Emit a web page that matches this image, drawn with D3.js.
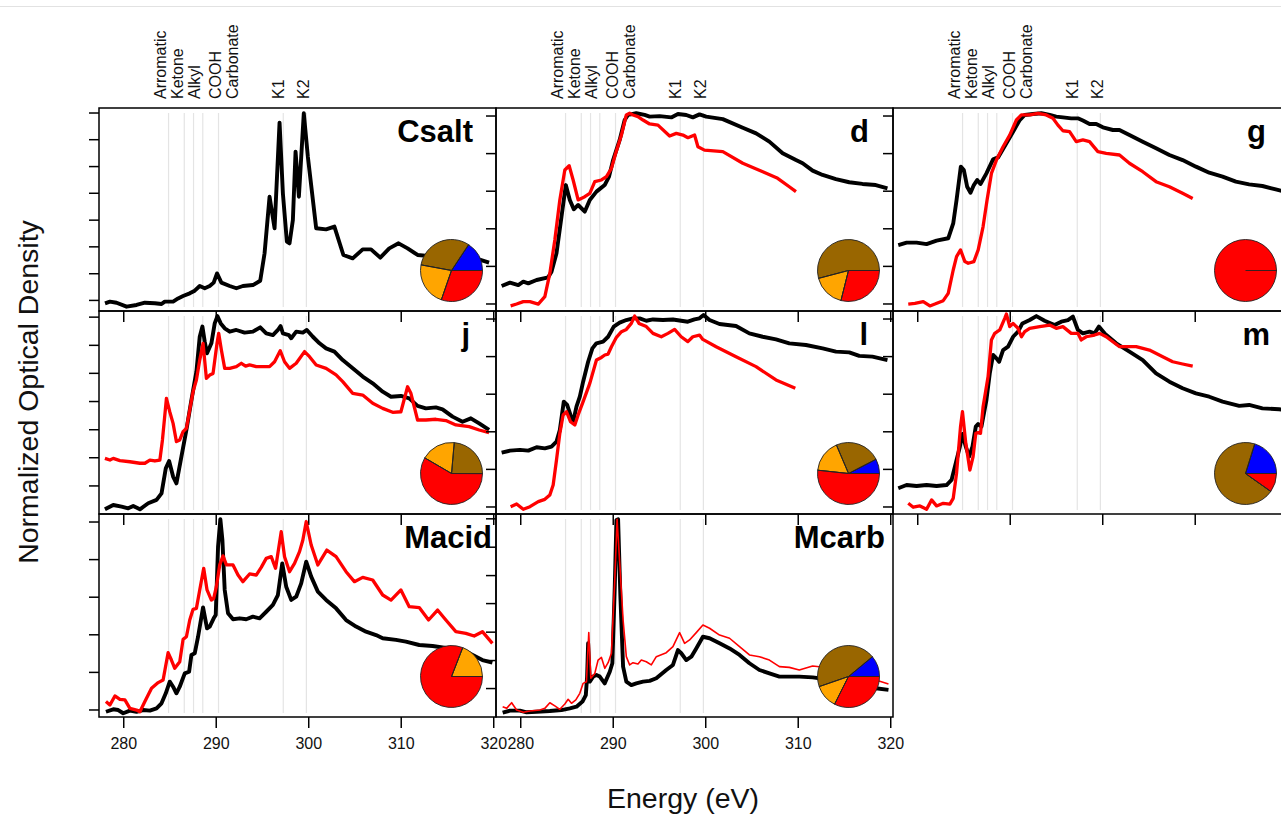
<!DOCTYPE html>
<html>
<head>
<meta charset="utf-8">
<script src="https://cdn.jsdelivr.net/npm/d3@7"></script>
<style>
  body { margin: 0; background: #fff; }
  svg { display: block; font-family: "Liberation Sans", Arial, Helvetica, sans-serif; }
</style>
</head>
<body>
<svg id="chart" width="1281" height="815"></svg>
<script>
// reference energies (eV) with their labels
const refNames = ["Arromatic", "Ketone", "Alkyl", "COOH", "Carbonate", "K1", "K2"];
const refEnergy = [284.9, 286.6, 287.6, 288.6, 290.3, 297.3, 299.8];
const refLabelAt = [284.6, 286.5, 288.3, 290.6, 292.4, 297.4, 300.1];

const xTicks = [280, 290, 300, 310, 320];
const xDomain = [277.38, 320.3];

const panels = ["Csalt", "d", "g", "j", "l", "m", "Macid", "Mcarb"];

// y tick values (normalized OD) for each panel, same order as panels
const yTicks = [
  [0.019, 0.161, 0.304, 0.446, 0.589, 0.731, 0.874, 1.016],
  [0, 0.2, 0.4, 0.6, 0.8, 1],
  [0, 0.2, 0.4, 0.6, 0.8, 1],
  [0.112, 0.262, 0.411, 0.561, 0.711, 0.86, 1.01],
  [0, 0.2, 0.4, 0.6, 0.8, 1],
  [0, 0.2, 0.4, 0.6, 0.8, 1],
  [0, 0.2, 0.4, 0.6, 0.8, 1],
  [0.114, 0.263, 0.414, 0.566, 0.715, 0.866, 1.017]
];

// pie fractions (blue, brown, orange, red) per panel
const pieBlue   = [0.157, 0,     0, 0,     0.076, 0.202, 0,     0.110];
const pieBrown  = [0.314, 0.541, 0, 0.236, 0.238, 0.700, 0,     0.443];
const pieOrange = [0.226, 0.170, 0, 0.180, 0.169, 0,     0.191, 0.123];
const pieRed    = [0.303, 0.289, 1, 0.583, 0.517, 0.098, 0.809, 0.324];
const pieColors = ["#0000ff", "#996600", "#ffa500", "#ff0000"];

// spectra: [energy eV, normalized OD]
const csaltBlack = [[278.03,0.001],[278.56,0.010],[279.28,0.004],[280.36,-0.017],[281.44,-0.008],[282.34,0.004],[283.42,0.001],[284.14,-0.003],[284.49,0.010],[285.39,0.010],[285.93,0.027],[286.47,0.040],[287.19,0.054],[287.73,0.068],[288.27,0.093],[288.81,0.081],[289.35,0.093],[289.78,0.111],[290.14,0.160],[290.61,0.111],[291.51,0.093],[292.23,0.081],[292.94,0.093],[294.02,0.098],[294.81,0.121],[295.28,0.267],[295.82,0.568],[296.36,0.400],[296.90,0.962],[297.26,0.586],[297.69,0.329],[297.98,0.320],[298.34,0.444],[298.63,0.808],[298.99,0.568],[299.52,1.012],[299.96,0.781],[300.86,0.400],[301.93,0.394],[302.83,0.409],[303.80,0.258],[304.81,0.240],[305.89,0.288],[306.79,0.288],[307.79,0.244],[308.76,0.293],[309.77,0.320],[310.74,0.293],[311.82,0.258],[313.80,0.249],[315.96,0.240],[318.11,0.240],[319.55,0.217]];

const dBlack = [[277.99,0.093],[278.89,0.111],[279.79,0.098],[280.33,0.116],[280.87,0.107],[281.77,0.125],[283.02,0.139],[283.38,0.169],[283.92,0.267],[284.46,0.462],[284.93,0.630],[285.36,0.551],[285.79,0.501],[286.26,0.524],[286.98,0.489],[287.52,0.551],[288.24,0.595],[289.13,0.630],[289.60,0.675],[290.04,0.763],[290.75,0.870],[291.29,0.976],[291.65,1.003],[292.55,1.012],[293.45,1.003],[293.99,0.994],[295.07,0.997],[296.33,0.990],[297.05,1.008],[297.95,1.003],[298.66,0.990],[299.38,1.006],[300.10,0.994],[301.90,0.981],[304.06,0.935],[305.50,0.905],[306.93,0.861],[308.37,0.799],[309.81,0.763],[310.53,0.746],[311.61,0.707],[312.69,0.684],[314.13,0.662],[315.57,0.645],[317.00,0.636],[318.44,0.630],[319.70,0.613]];
const dRed = [[278.96,-0.013],[279.61,-0.003],[280.33,0.010],[281.05,0.010],[281.95,-0.003],[282.66,0.036],[283.20,0.160],[283.74,0.338],[284.28,0.551],[284.82,0.710],[285.29,0.733],[285.72,0.657],[286.26,0.551],[286.98,0.568],[287.52,0.586],[288.06,0.648],[288.78,0.657],[289.32,0.675],[289.86,0.719],[290.32,0.799],[290.94,0.896],[291.47,1.003],[291.83,1.012],[292.19,1.003],[292.73,0.994],[293.27,0.976],[293.99,0.955],[294.89,0.949],[296.15,0.891],[296.87,0.905],[297.59,0.896],[298.13,0.882],[298.85,0.896],[299.21,0.834],[299.92,0.816],[301.90,0.808],[304.06,0.746],[306.22,0.701],[307.83,0.666],[309.09,0.621],[309.81,0.595]];

const gBlack = [[277.95,0.311],[278.85,0.324],[279.93,0.324],[281.01,0.316],[282.09,0.334],[283.35,0.347],[283.89,0.426],[284.25,0.551],[284.71,0.728],[285.04,0.710],[285.40,0.621],[285.76,0.589],[286.12,0.630],[286.48,0.657],[286.84,0.636],[287.48,0.692],[288.20,0.767],[288.74,0.777],[289.64,0.852],[290.36,0.914],[291.08,0.976],[291.62,1.003],[292.52,1.008],[293.42,1.012],[294.32,1.003],[295.03,0.994],[295.75,0.990],[296.65,0.985],[297.37,0.985],[297.91,0.973],[298.63,0.955],[299.35,0.955],[300.07,0.937],[301.15,0.923],[301.86,0.923],[302.94,0.896],[304.38,0.861],[305.82,0.826],[307.26,0.790],[308.69,0.763],[310.13,0.728],[311.57,0.696],[313.01,0.675],[314.45,0.648],[315.88,0.634],[317.32,0.625],[318.76,0.607],[319.30,0.600],[319.70,0.595]];
const gRed = [[279.03,-0.003],[279.75,0.001],[280.65,0.010],[281.37,-0.013],[281.91,-0.003],[282.81,0.015],[283.35,0.054],[283.89,0.178],[284.25,0.249],[284.68,0.285],[285.15,0.223],[285.51,0.214],[286.12,0.223],[286.59,0.285],[287.12,0.409],[287.55,0.551],[288.02,0.692],[288.56,0.763],[289.28,0.834],[290.00,0.896],[290.72,0.976],[291.26,1.003],[292.16,1.003],[293.06,1.012],[293.95,1.003],[294.67,0.985],[295.21,0.949],[295.75,0.919],[296.47,0.914],[297.19,0.861],[297.91,0.870],[298.63,0.861],[299.53,0.808],[300.43,0.799],[301.87,0.790],[302.94,0.746],[304.38,0.701],[305.82,0.648],[307.26,0.621],[308.69,0.586],[309.78,0.559]];

const jBlack = [[278.02,-0.015],[278.92,0.008],[279.82,-0.001],[280.54,-0.010],[281.08,0.003],[281.80,-0.015],[282.70,0.017],[283.60,0.035],[284.14,0.070],[284.60,0.203],[284.96,0.242],[285.39,0.159],[285.75,0.123],[286.29,0.265],[286.83,0.407],[287.37,0.566],[287.91,0.717],[288.27,0.903],[288.56,0.957],[288.81,0.877],[289.06,0.815],[289.53,0.868],[289.89,0.974],[290.18,1.013],[290.54,0.974],[290.97,0.948],[291.51,0.930],[292.23,0.939],[293.12,0.925],[294.02,0.930],[294.81,0.953],[295.46,0.921],[296.18,0.912],[296.72,0.939],[297.01,0.960],[297.26,0.921],[297.91,0.912],[298.16,0.895],[298.70,0.930],[299.42,0.925],[299.85,0.939],[300.50,0.903],[301.22,0.868],[301.93,0.841],[302.83,0.824],[303.73,0.779],[304.81,0.735],[305.89,0.691],[306.97,0.655],[308.05,0.611],[308.95,0.584],[310.02,0.588],[310.92,0.575],[311.82,0.535],[312.72,0.522],[313.80,0.527],[314.52,0.517],[315.60,0.478],[316.68,0.451],[317.58,0.469],[318.48,0.442],[319.55,0.407]];
const jRed = [[278.02,0.256],[278.56,0.247],[278.92,0.256],[279.64,0.244],[280.72,0.238],[281.80,0.230],[282.34,0.230],[282.88,0.247],[283.42,0.242],[283.96,0.247],[284.24,0.354],[284.67,0.575],[285.03,0.504],[285.39,0.442],[285.75,0.345],[286.11,0.354],[286.47,0.398],[286.83,0.416],[287.19,0.513],[287.55,0.611],[287.91,0.673],[288.27,0.779],[288.63,0.868],[288.99,0.682],[289.35,0.699],[289.71,0.708],[290.14,0.868],[290.32,0.921],[290.61,0.832],[290.97,0.735],[291.51,0.735],[292.23,0.744],[292.77,0.762],[293.23,0.747],[293.66,0.753],[294.38,0.744],[295.82,0.744],[296.36,0.770],[296.97,0.829],[297.44,0.770],[297.98,0.735],[298.70,0.762],[299.60,0.824],[300.14,0.797],[300.86,0.753],[301.93,0.735],[303.01,0.700],[303.73,0.664],[304.81,0.602],[305.89,0.593],[306.97,0.549],[308.05,0.522],[309.13,0.501],[310.02,0.504],[310.74,0.637],[311.10,0.602],[311.82,0.460],[312.72,0.460],[313.80,0.464],[314.88,0.457],[315.96,0.434],[317.40,0.425],[318.48,0.407],[319.55,0.393]];

const lBlack = [[277.99,0.286],[278.89,0.297],[279.97,0.301],[280.87,0.297],[281.77,0.315],[282.66,0.309],[283.38,0.318],[283.92,0.345],[284.28,0.407],[284.71,0.558],[285.07,0.540],[285.43,0.487],[285.72,0.451],[286.08,0.531],[286.44,0.584],[286.80,0.664],[287.34,0.770],[287.80,0.841],[288.24,0.868],[288.96,0.877],[289.50,0.903],[290.11,0.957],[290.75,0.978],[291.47,0.992],[292.19,1.001],[292.91,1.001],[293.63,0.988],[294.35,0.995],[295.43,0.992],[296.51,0.995],[297.40,0.988],[298.12,0.983],[298.84,0.995],[299.38,1.001],[299.82,1.019],[300.46,0.992],[301.54,0.971],[303.33,0.960],[304.77,0.921],[306.21,0.903],[307.65,0.889],[309.09,0.868],[310.89,0.859],[312.69,0.841],[314.13,0.824],[315.57,0.820],[316.65,0.801],[318.08,0.797],[319.70,0.779]];
const lRed = [[278.96,-0.001],[279.61,0.013],[280.33,-0.015],[281.05,-0.001],[281.95,0.026],[282.66,0.038],[283.20,0.061],[283.56,0.114],[283.92,0.247],[284.28,0.389],[284.64,0.487],[285.00,0.504],[285.43,0.451],[285.90,0.434],[286.26,0.487],[286.80,0.558],[287.52,0.655],[288.24,0.779],[288.78,0.793],[289.14,0.806],[289.50,0.811],[289.86,0.850],[290.40,0.900],[290.94,0.930],[291.47,0.942],[292.01,0.974],[292.37,1.013],[292.84,0.974],[293.63,0.957],[294.35,0.921],[295.25,0.903],[295.97,0.921],[296.69,0.942],[297.40,0.903],[298.12,0.877],[298.66,0.903],[299.38,0.912],[299.74,0.889],[301.18,0.850],[303.33,0.797],[305.49,0.744],[307.65,0.673],[309.74,0.629]];

const mBlack = [[277.95,0.097],[278.85,0.114],[279.93,0.109],[281.01,0.114],[282.09,0.109],[283.17,0.114],[283.71,0.141],[284.07,0.212],[284.61,0.318],[284.89,0.386],[285.25,0.318],[285.61,0.265],[285.97,0.318],[286.33,0.425],[286.58,0.439],[286.94,0.425],[287.48,0.566],[287.84,0.708],[288.20,0.806],[288.56,0.788],[288.85,0.770],[289.28,0.832],[289.82,0.850],[290.36,0.903],[290.90,0.930],[291.37,0.974],[292.16,0.992],[292.88,1.013],[293.77,0.988],[294.85,0.965],[295.57,0.983],[296.29,0.992],[296.83,1.010],[297.37,0.939],[297.91,0.921],[298.63,0.930],[299.17,0.921],[299.64,0.957],[300.25,0.921],[301.51,0.868],[302.94,0.824],[304.38,0.779],[305.82,0.708],[307.26,0.664],[308.69,0.629],[310.13,0.602],[311.57,0.584],[313.01,0.558],[314.81,0.535],[315.88,0.540],[317.32,0.522],[319.12,0.517],[319.70,0.515]];
const mRed = [[279.03,0.017],[279.57,-0.004],[280.29,0.003],[281.01,-0.015],[281.55,0.035],[282.09,0.003],[282.81,0.017],[283.53,0.013],[283.89,0.043],[284.25,0.176],[284.68,0.425],[284.89,0.504],[285.25,0.336],[285.69,0.194],[286.04,0.265],[286.33,0.389],[286.58,0.393],[286.84,0.389],[287.12,0.531],[287.66,0.691],[288.02,0.886],[288.38,0.921],[288.92,0.939],[289.46,1.001],[289.64,1.024],[290.00,0.957],[290.36,0.974],[290.90,0.948],[291.26,0.903],[291.62,0.930],[292.16,0.948],[293.24,0.957],[294.32,0.965],[295.03,0.948],[295.75,0.957],[296.65,0.921],[297.37,0.921],[297.73,0.886],[298.27,0.903],[299.17,0.912],[299.71,0.921],[300.43,0.903],[301.87,0.850],[303.67,0.850],[305.10,0.832],[306.54,0.797],[307.62,0.770],[308.69,0.758],[309.78,0.747]];

const macidBlack = [[278.13,-0.012],[278.92,0.001],[279.46,-0.003],[280.00,-0.020],[280.72,-0.006],[281.44,-0.012],[282.16,-0.003],[282.88,-0.006],[283.60,0.006],[284.14,0.033],[284.60,0.086],[285.03,0.148],[285.39,0.121],[285.75,0.086],[286.11,0.121],[286.65,0.192],[287.12,0.201],[287.37,0.290],[287.73,0.299],[288.09,0.387],[288.63,0.543],[289.06,0.432],[289.35,0.441],[289.78,0.485],[290.00,0.503],[290.25,0.866],[290.50,1.012],[290.72,0.902],[290.97,0.636],[291.33,0.512],[291.87,0.480],[292.59,0.485],[293.30,0.480],[294.02,0.494],[294.74,0.485],[295.46,0.520],[296.18,0.556],[296.72,0.609],[297.19,0.777],[297.62,0.653],[298.16,0.583],[298.70,0.600],[299.24,0.671],[299.78,0.786],[300.32,0.707],[301.04,0.627],[301.93,0.583],[303.01,0.538],[304.09,0.476],[305.17,0.441],[306.25,0.414],[307.33,0.396],[308.05,0.379],[309.49,0.370],[310.56,0.361],[312.00,0.343],[313.44,0.338],[315.24,0.325],[317.04,0.308],[318.83,0.263],[319.91,0.249]];
const macidRed = [[278.13,0.042],[278.56,0.024],[279.10,0.072],[279.64,0.054],[280.18,0.051],[280.72,0.006],[281.44,-0.003],[281.80,-0.012],[282.34,0.042],[283.06,0.113],[283.78,0.143],[284.31,0.157],[284.85,0.302],[285.21,0.263],[285.57,0.219],[286.11,0.254],[286.47,0.373],[286.83,0.387],[287.19,0.476],[287.55,0.533],[287.91,0.538],[288.27,0.636],[288.70,0.751],[289.06,0.636],[289.53,0.582],[289.78,0.591],[290.07,0.653],[290.43,0.769],[290.79,0.817],[291.15,0.769],[291.87,0.769],[292.41,0.715],[292.94,0.680],[293.66,0.721],[294.38,0.715],[294.92,0.756],[295.46,0.804],[296.00,0.813],[296.47,0.751],[297.08,0.946],[297.44,0.813],[297.98,0.733],[298.52,0.777],[299.06,0.840],[299.42,0.902],[299.78,0.999],[300.32,0.875],[301.04,0.769],[302.01,0.848],[303.01,0.813],[304.09,0.733],[304.99,0.680],[305.89,0.703],[306.97,0.689],[308.05,0.609],[308.95,0.582],[310.02,0.636],[310.92,0.547],[312.00,0.542],[313.01,0.476],[313.98,0.529],[314.88,0.476],[315.96,0.414],[317.04,0.405],[317.94,0.391],[318.83,0.414],[319.91,0.352]];

const mcarbBlack = [[278.10,-0.017],[278.89,-0.006],[279.97,-0.006],[280.69,-0.015],[281.77,-0.012],[283.20,-0.008],[284.46,-0.003],[285.36,0.006],[286.08,0.015],[286.73,0.042],[287.09,0.077],[287.23,0.175],[287.34,0.352],[287.52,0.148],[287.88,0.175],[288.24,0.184],[288.60,0.175],[289.13,0.139],[289.68,0.201],[289.96,0.246],[290.22,0.653],[290.40,1.008],[290.58,1.012],[290.83,0.600],[291.12,0.228],[291.47,0.148],[292.01,0.130],[292.55,0.139],[293.27,0.148],[293.99,0.152],[294.71,0.166],[295.79,0.210],[296.51,0.237],[297.05,0.316],[297.41,0.299],[297.95,0.263],[298.50,0.281],[299.03,0.325],[299.75,0.387],[300.47,0.379],[301.55,0.352],[302.63,0.325],[303.71,0.290],[304.78,0.246],[305.86,0.210],[306.94,0.192],[308.02,0.175],[310.17,0.175],[311.61,0.171],[313.77,0.157],[316.28,0.130],[318.44,0.113],[319.81,0.104]];
const mcarbRed = [[278.10,0.015],[278.53,0.006],[279.07,0.036],[279.61,-0.003],[280.33,-0.015],[281.05,-0.008],[282.13,-0.003],[282.66,0.006],[283.20,0.036],[283.74,0.019],[284.28,0.001],[284.82,0.029],[285.18,0.054],[285.54,0.033],[286.01,0.051],[286.44,0.086],[286.80,0.139],[287.16,0.148],[287.41,0.409],[287.63,0.166],[288.06,0.192],[288.42,0.263],[288.78,0.277],[289.14,0.219],[289.50,0.249],[289.86,0.299],[290.22,0.689],[290.47,1.012],[290.76,0.777],[291.12,0.476],[291.47,0.281],[291.83,0.237],[292.19,0.249],[292.73,0.242],[293.09,0.263],[293.63,0.254],[294.17,0.237],[294.71,0.281],[295.79,0.302],[296.51,0.334],[297.23,0.409],[297.77,0.352],[298.31,0.370],[299.03,0.409],[299.75,0.449],[300.47,0.432],[301.55,0.396],[302.63,0.379],[303.71,0.334],[304.78,0.290],[305.86,0.281],[306.94,0.263],[308.02,0.228],[309.09,0.224],[310.17,0.210],[311.61,0.231],[313.77,0.219],[316.28,0.193],[318.44,0.157],[319.81,0.136]];

// table built from the arrays above
const blackSeries = [csaltBlack, dBlack, gBlack, jBlack, lBlack, mBlack, macidBlack, mcarbBlack];
const redSeries = [null, dRed, gRed, jRed, lRed, mRed, macidRed, mcarbRed];

// layout
const colLeft = [99, 496, 893];
const rowTop = [108, 311, 514];
const panelW = 397, panelH = 203;
const pieR = 31;
const labelInset = { Csalt: 23, d: 24, g: 24, j: 26, l: 25, m: 20, Macid: 4, Mcarb: 8 };

const svg = d3.select("#chart");

// faint page border at the top
svg.append("line")
  .attr("x1", 0).attr("x2", 1281).attr("y1", 6.5).attr("y2", 6.5)
  .attr("stroke", "#e2e2e2").attr("stroke-width", 1);

// rotated reference labels above the top row
colLeft.forEach((cx) => {
  const x = d3.scaleLinear().domain(xDomain).range([cx, cx + panelW]);
  svg.append("g")
    .selectAll("text")
    .data(refNames)
    .join("text")
    .attr("transform", (d, k) => `translate(${x(refLabelAt[k])},99) rotate(-90)`)
    .attr("font-size", 16)
    .attr("fill", "#111")
    .text((d) => d);
});

panels.forEach((name, i) => {
  const col = i % 3, row = Math.floor(i / 3);
  const x0 = colLeft[col], y0 = rowTop[row];

  const x = d3.scaleLinear().domain(xDomain).range([x0, x0 + panelW]);
  const y = d3.scaleLinear().domain([-0.04, 1.04]).range([y0 + panelH, y0]);

  const g = svg.append("g").attr("class", "panel");

  // reference lines
  g.selectAll("line.ref")
    .data(refEnergy)
    .join("line")
    .attr("class", "ref")
    .attr("x1", (d) => x(d)).attr("x2", (d) => x(d))
    .attr("y1", y0 + 5).attr("y2", y0 + panelH - 4)
    .attr("stroke", "#e4e4e4").attr("stroke-width", 1.2);

  const line = d3.line().x((d) => x(d[0])).y((d) => y(d[1]));

  g.append("path")
    .datum(blackSeries[i])
    .attr("d", line)
    .attr("fill", "none")
    .attr("stroke", "#000")
    .attr("stroke-width", 3.9)
    .attr("stroke-linejoin", "round");

  if (redSeries[i]) {
    g.append("path")
      .datum(redSeries[i])
      .attr("d", line)
      .attr("fill", "none")
      .attr("stroke", "#ff0000")
      .attr("stroke-width", name === "Mcarb" ? 1.6 : 3.3)
      .attr("stroke-linejoin", "round");
  }

  // pie (counter-clockwise from 3 o'clock), zero slices still leave their edge line
  const fr = [pieBlue[i], pieBrown[i], pieOrange[i], pieRed[i]];
  const arc = d3.arc().innerRadius(0).outerRadius(pieR);
  const pieG = g.append("g").attr("transform", `translate(${x0 + panelW - 44.5},${y0 + 162.5})`);
  let acc = 0;
  fr.forEach((f, k) => {
    const t1 = acc * 2 * Math.PI, t2 = (acc + f) * 2 * Math.PI;
    acc += f;
    if (f > 0) {
      pieG.append("path")
        .attr("d", arc({ startAngle: Math.PI / 2 - t2, endAngle: Math.PI / 2 - t1 }))
        .attr("fill", pieColors[k])
        .attr("stroke", "#222")
        .attr("stroke-width", 0.9);
    }
    pieG.append("line")
      .attr("x1", 0).attr("y1", 0)
      .attr("x2", pieR * Math.cos(t1)).attr("y2", -pieR * Math.sin(t1))
      .attr("stroke", "#222").attr("stroke-width", 0.9);
  });

  // frame
  g.append("rect")
    .attr("x", x0).attr("y", y0)
    .attr("width", panelW).attr("height", panelH)
    .attr("fill", "none").attr("stroke", "#000").attr("stroke-width", 1.5);

  // y ticks (no labels)
  const yAxis = g.append("g")
    .attr("transform", `translate(${x0},0)`)
    .call(d3.axisLeft(y).tickValues(yTicks[i]).tickSize(10).tickSizeOuter(0).tickFormat(""));
  yAxis.select(".domain").remove();
  yAxis.selectAll("line").attr("stroke-width", 1.5);

  // x ticks, labelled on the bottom row only
  const xAxis = g.append("g")
    .attr("transform", `translate(0,${y0 + panelH})`)
    .call(d3.axisBottom(x).tickValues(xTicks).tickSize(11).tickSizeOuter(0).tickPadding(10)
      .tickFormat(row === 2 ? d3.format("d") : ""));
  xAxis.select(".domain").remove();
  xAxis.selectAll("line").attr("stroke-width", 1.5);
  xAxis.selectAll("text")
    .attr("font-size", 16)
    .attr("font-family", '"Liberation Sans", Arial, sans-serif')
    .attr("fill", "#111");

  // panel name
  g.append("text")
    .attr("x", x0 + panelW - labelInset[name])
    .attr("y", y0 + 34)
    .attr("text-anchor", "end")
    .attr("font-size", 31)
    .attr("font-weight", "bold")
    .text(name);
});

// axis titles
svg.append("text")
  .attr("transform", "translate(38,392) rotate(-90)")
  .attr("text-anchor", "middle")
  .attr("font-size", 28.5)
  .attr("fill", "#111")
  .text("Normalized Optical Density");

svg.append("text")
  .attr("x", 683).attr("y", 808)
  .attr("text-anchor", "middle")
  .attr("font-size", 28.5)
  .attr("fill", "#111")
  .text("Energy (eV)");
</script>
</body>
</html>
